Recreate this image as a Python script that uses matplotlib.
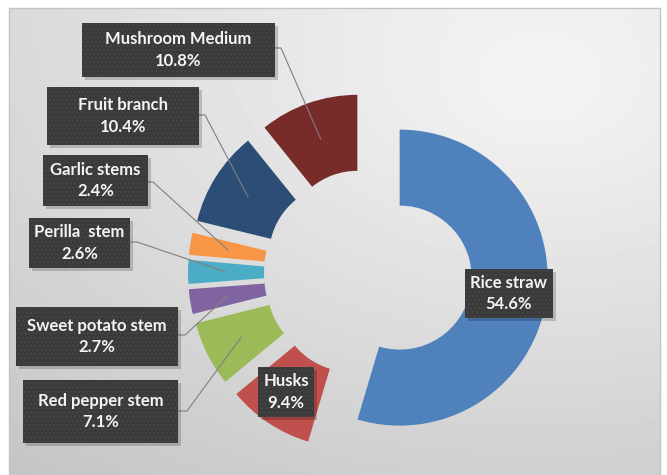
import numpy as np
import matplotlib
matplotlib.use("Agg")
import matplotlib.pyplot as plt
from matplotlib.patches import Rectangle

# data
categories = ["Rice straw", "Husks", "Red pepper stem", "Sweet potato stem",
              "Perilla  stem", "Garlic stems", "Fruit branch", "Mushroom Medium"]
shares = [54.6, 9.4, 7.1, 2.7, 2.6, 2.4, 10.4, 10.8]
colors = ["#4f81bd", "#c0504d", "#9bbb59", "#8064a2",
          "#4bacc6", "#f79646", "#2c4d75", "#772c2a"]

W, H = 667, 475
plt.rcParams['font.family'] = ['Lato', 'DejaVu Sans']

fig = plt.figure(figsize=(W / 100, H / 100), dpi=100)
ax = fig.add_axes([0, 0, 1, 1])


def py(y):
    # pixel row -> data y
    return H - y


# background gradient of the chart area
gx, gy = np.meshgrid(np.arange(9, 660), np.arange(8, H))
d = np.hypot((gx - 540) / 1.4, gy - 90)
shade = 0.965 - 0.15 * np.clip(d / 520, 0, 1.3) - 0.04 * (gy / H)
ax.imshow(shade, cmap="gray", vmin=0, vmax=1, extent=(9, 660, py(H), py(8)),
          origin="upper", zorder=0, aspect="auto")
ax.plot([9, 9, 660, 660], [py(H), py(8), py(8), py(H)], color="#c4c4c4", lw=1, zorder=1)

# doughnut
cx, cy, radius, ring = 368, 273, 148, 76
wedges, _ = ax.pie(shares, colors=colors, startangle=90, counterclock=False,
                   center=(cx, py(cy)), radius=radius, explode=[32] * len(shares),
                   wedgeprops=dict(width=ring, edgecolor="none"))
for w in wedges:
    w.set_zorder(2)

# label boxes (pixels: left, top, right, bottom) and leader elbows
boxes = {
    "Mushroom Medium": (82, 23, 275, 77),
    "Fruit branch": (47, 87, 199, 145),
    "Garlic stems": (43, 155, 148, 206),
    "Perilla  stem": (29, 218, 130, 268),
    "Sweet potato stem": (16, 307, 178, 366),
    "Red pepper stem": (23, 380, 178, 443),
    "Husks": (258, 367, 314, 417),
    "Rice straw": (465, 269, 553, 318),
}
leaders = {
    "Mushroom Medium": (48, 281),
    "Fruit branch": (115, 205),
    "Garlic stems": (182, 153),
    "Perilla  stem": (242, 137),
    "Sweet potato stem": (335, 185),
    "Red pepper stem": (411, 187),
}

for w, name, val in zip(wedges, categories, shares):
    x0, y0, x1, y1 = boxes[name]
    ax.add_patch(Rectangle((x0 + 3, py(y1) - 3), x1 - x0, y1 - y0,
                           facecolor="#000000", alpha=0.18, lw=0, zorder=4))
    ax.add_patch(Rectangle((x0, py(y1)), x1 - x0, y1 - y0, facecolor="#3a3a3a",
                           edgecolor="#464646", hatch="....", lw=0, zorder=5))
    ax.text((x0 + x1) / 2, py((y0 + y1) / 2), f"{name}\n{val}%", ha="center",
            va="center", color="#f4f4f4", fontsize=12, fontweight="bold",
            linespacing=1.4, zorder=6)
    if name in leaders:
        ly, ex = leaders[name]
        mid = np.deg2rad((w.theta1 + w.theta2) / 2)
        rr = w.r - ring / 2
        tx = w.center[0] + rr * np.cos(mid)
        ty = w.center[1] + rr * np.sin(mid)
        ax.plot([x1, ex, tx], [py(ly), py(ly), ty], color="#7f7f7f", lw=0.8, zorder=3)

ax.set_xlim(0, W)
ax.set_ylim(0, H)
ax.set_aspect("equal")
ax.axis("off")
fig.savefig("out.png", dpi=100, facecolor="white")
